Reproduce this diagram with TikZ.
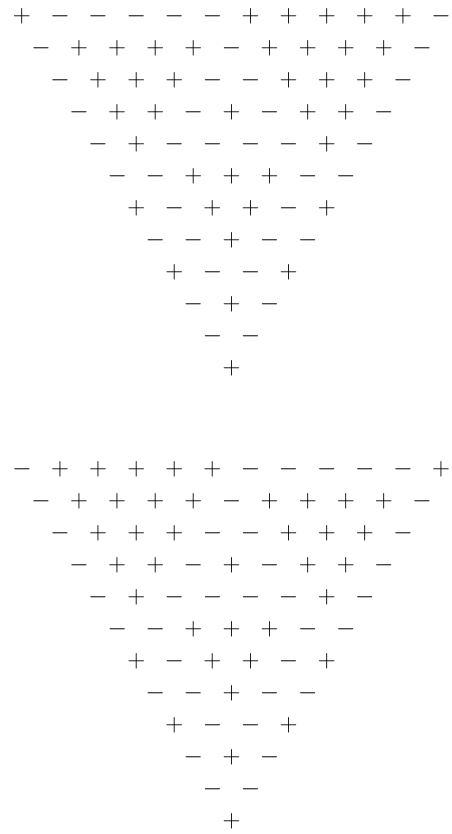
\documentclass[tikz,border=0pt]{standalone}
\begin{document}
\begin{tikzpicture}[x=1pt,y=1pt,
  sgn/.style={inner sep=0pt,outer sep=0pt,font=\fontsize{25}{30}\selectfont}]
\useasboundingbox (0,0) rectangle (451,834);
% top triangle
\foreach \row [count=\r] in {
  {+,-,-,-,-,-,+,+,+,+,+,-},
  {-,+,+,+,+,-,+,+,+,+,-},
  {-,+,+,+,-,-,+,+,+,-},
  {-,+,+,-,+,-,+,+,-},
  {-,+,-,-,-,-,+,-},
  {-,-,+,+,+,-,-},
  {+,-,+,+,-,+},
  {-,-,+,-,-},
  {+,-,-,+},
  {-,+,-},
  {-,-},
  {+}}
{
  \foreach \s [count=\k] in \row {
    \node[sgn] (t-\r-\k) at ({231.5+(\k-(14-\r)/2)*38.1},{834-(16+(\r-1)*32)}) {$\s$};
  }
}
% bottom triangle
\foreach \row [count=\r] in {
  {-,+,+,+,+,+,-,-,-,-,-,+},
  {-,+,+,+,+,-,+,+,+,+,-},
  {-,+,+,+,-,-,+,+,+,-},
  {-,+,+,-,+,-,+,+,-},
  {-,+,-,-,-,-,+,-},
  {-,-,+,+,+,-,-},
  {+,-,+,+,-,+},
  {-,-,+,-,-},
  {+,-,-,+},
  {-,+,-},
  {-,-},
  {+}}
{
  \foreach \s [count=\k] in \row {
    \node[sgn] (b-\r-\k) at ({231.5+(\k-(14-\r)/2)*38.1},{834-(469+(\r-1)*32)}) {$\s$};
  }
}
\end{tikzpicture}
\end{document}
